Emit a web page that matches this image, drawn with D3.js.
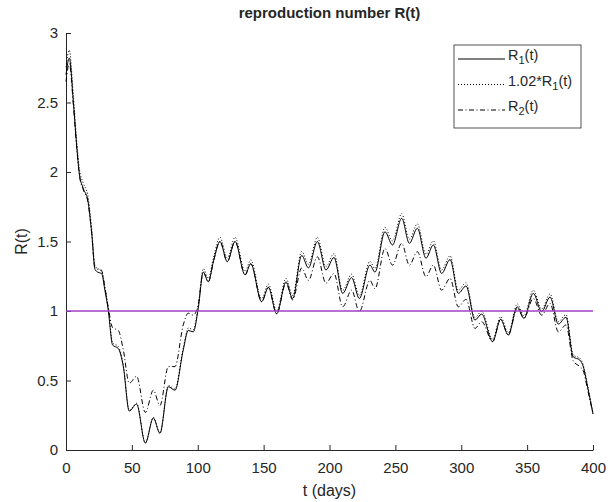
<!DOCTYPE html>
<html>
<head>
<meta charset="utf-8">
<script src="https://cdn.jsdelivr.net/npm/d3@7"></script>
<style>
  body { margin: 0; background: #fff; }
  text { font-family: "Liberation Sans", Arial, sans-serif; fill: #262626; }
</style>
</head>
<body>
<svg id="chart" width="613" height="502"></svg>
<script>
// sample days (peaks, troughs and shoulders)
let days = [0, 2.5, 5.6, 8, 10.1, 13.2, 16.5, 19.5, 22, 24, 27, 29.5, 32, 35.4, 39.7, 43.5,
    48, 53.6, 60.2, 66.3, 71.3, 77.7, 82.7, 89, 92.8, 96.6, 100.4, 104.2, 108, 112,
    116.9, 122.4, 128.3, 135.9, 140.2, 148.5, 153.6, 159.9, 167, 172, 178.9, 184,
    190.8, 197.3, 203.4, 210, 216.8, 222.6, 230.7, 234.5, 242.1, 247.8, 254.8, 260.6,
    266.7, 273.2, 278.8, 285.1, 291.5, 297.8, 303.6, 310.4, 315.5, 323.8, 329.9, 335.7,
    342.5, 347.6, 354.7, 361, 367.4, 373.7, 379.5, 385, 390, 392.6, 396, 400];

let r1 = [2.70, 2.82, 2.50, 2.20, 1.99, 1.88, 1.80, 1.56, 1.30, 1.28, 1.27, 1.15, 1.01, 0.755, 0.73, 0.60,
    0.28, 0.33, 0.05, 0.23, 0.12, 0.455, 0.43, 0.72, 0.86, 0.85, 1.02, 1.28, 1.21, 1.36,
    1.50, 1.355, 1.50, 1.26, 1.34, 1.067, 1.17, 0.98, 1.21, 1.09, 1.40, 1.31,
    1.50, 1.295, 1.385, 1.127, 1.24, 1.09, 1.33, 1.28, 1.57, 1.475, 1.667, 1.487,
    1.595, 1.38, 1.475, 1.27, 1.37, 1.127, 1.18, 0.935, 0.978, 0.78, 0.94, 0.827,
    1.03, 0.947, 1.127, 0.995, 1.10, 0.906, 0.955, 0.67, 0.647, 0.60, 0.45, 0.26];

let r2 = [2.65, 2.78, 2.48, 2.19, 1.98, 1.87, 1.79, 1.56, 1.31, 1.30, 1.29, 1.17, 1.03, 0.88, 0.86, 0.72,
    0.48, 0.53, 0.27, 0.43, 0.32, 0.60, 0.60, 0.90, 0.985, 0.97, 1.05, 1.28, 1.21, 1.36,
    1.50, 1.355, 1.50, 1.26, 1.34, 1.067, 1.17, 0.98, 1.20, 1.08, 1.31, 1.22,
    1.39, 1.20, 1.27, 1.03, 1.15, 0.995, 1.22, 1.16, 1.45, 1.33, 1.487, 1.33,
    1.427, 1.247, 1.33, 1.15, 1.235, 1.03, 1.084, 0.875, 0.923, 0.78, 0.94, 0.827,
    1.02, 0.95, 1.09, 0.97, 1.055, 0.85, 0.90, 0.64, 0.60, 0.57, 0.43, 0.26];

// third curve is defined in the legend as 1.02*R1(t)
let r1Scaled = r1.map(v => v * 1.02);

let xTicks = [0, 50, 100, 150, 200, 250, 300, 350, 400];
let yTicks = [0, 0.5, 1, 1.5, 2, 2.5, 3];
let threshold = 1;

let legendLabels = [
    {pre: "R", sub: "1", post: "(t)", dash: null},
    {pre: "1.02*R", sub: "1", post: "(t)", dash: "1,2"},
    {pre: "R", sub: "2", post: "(t)", dash: "5,2.5,1,2.5"}
];

let margin = {left: 66, right: 20, top: 33, bottom: 52};
let width = 613, height = 502;

let svg = d3.select("#chart");

let x = d3.scaleLinear().domain([0, 400]).range([margin.left, width - margin.right]);
let y = d3.scaleLinear().domain([0, 3]).range([height - margin.bottom, margin.top]);

function toPoints(vals) {
    return days.map((d, i) => [d, vals[i]]);
}

let line = d3.line()
    .x(d => x(d[0]))
    .y(d => y(d[1]))
    .curve(d3.curveMonotoneX);

// axes (ticks pointing inward, MATLAB style)
let xAxis = svg.append("g")
    .attr("transform", `translate(0,${y(0)})`)
    .call(d3.axisBottom(x).tickValues(xTicks).tickSize(-5).tickSizeOuter(0).tickPadding(12)
        .tickFormat(d => d));
let yAxis = svg.append("g")
    .attr("transform", `translate(${x(0)},0)`)
    .call(d3.axisLeft(y).tickValues(yTicks).tickSize(-5).tickSizeOuter(0).tickPadding(8)
        .tickFormat(d => d));

[xAxis, yAxis].forEach(g => {
    g.selectAll("path, line").attr("stroke", "#262626");
    g.selectAll("text").style("font-size", "15px").attr("fill", "#303030");
});

// curves
svg.append("path")
    .datum(toPoints(r1))
    .attr("d", line)
    .attr("fill", "none")
    .attr("stroke", "#000")
    .attr("stroke-width", 1);

svg.append("path")
    .datum(toPoints(r1Scaled))
    .attr("d", line)
    .attr("fill", "none")
    .attr("stroke", "#000")
    .attr("stroke-width", 1)
    .attr("stroke-dasharray", "1,2");

svg.append("path")
    .datum(toPoints(r2))
    .attr("d", line)
    .attr("fill", "none")
    .attr("stroke", "#000")
    .attr("stroke-width", 1)
    .attr("stroke-dasharray", "5,2.5,1,2.5");

// threshold R = 1
svg.append("line")
    .attr("x1", x(0)).attr("x2", x(400))
    .attr("y1", y(threshold)).attr("y2", y(threshold))
    .style("stroke", "#a33fc6")
    .style("stroke-width", "1.6px");

// labels
svg.append("text")
    .attr("x", (x(0) + x(400)) / 2)
    .attr("y", 18)
    .attr("text-anchor", "middle")
    .style("font-size", "15px")
    .style("font-weight", "bold")
    .attr("fill", "#000")
    .text("reproduction number R(t)");

svg.append("text")
    .attr("x", (x(0) + x(400)) / 2)
    .attr("y", 496)
    .attr("text-anchor", "middle")
    .style("font-size", "16px")
    .text("t (days)");

svg.append("text")
    .attr("transform", `translate(27,${(y(0) + y(3)) / 2}) rotate(-90)`)
    .attr("text-anchor", "middle")
    .style("font-size", "16px")
    .text("R(t)");

// legend
let legend = svg.append("g").attr("transform", "translate(454,45)");
legend.append("rect")
    .attr("width", 127).attr("height", 83)
    .attr("fill", "#fff")
    .attr("stroke", "#262626")
    .attr("stroke-width", 0.8);

let rows = legend.selectAll("g.row")
    .data(legendLabels)
    .join("g")
    .attr("class", "row")
    .attr("transform", (d, i) => `translate(0,${14 + i * 25.5})`);

rows.append("line")
    .attr("x1", 4).attr("x2", 51)
    .attr("y1", 0).attr("y2", 0)
    .attr("stroke", "#000")
    .attr("stroke-width", 1)
    .attr("stroke-dasharray", d => d.dash);

let labels = rows.append("text")
    .attr("x", 54)
    .attr("y", 1)
    .style("font-size", "14.5px");
labels.append("tspan").text(d => d.pre);
labels.append("tspan").attr("dy", 4).style("font-size", "11px").text(d => d.sub);
labels.append("tspan").attr("dy", -4).text(d => d.post);
</script>
</body>
</html>
